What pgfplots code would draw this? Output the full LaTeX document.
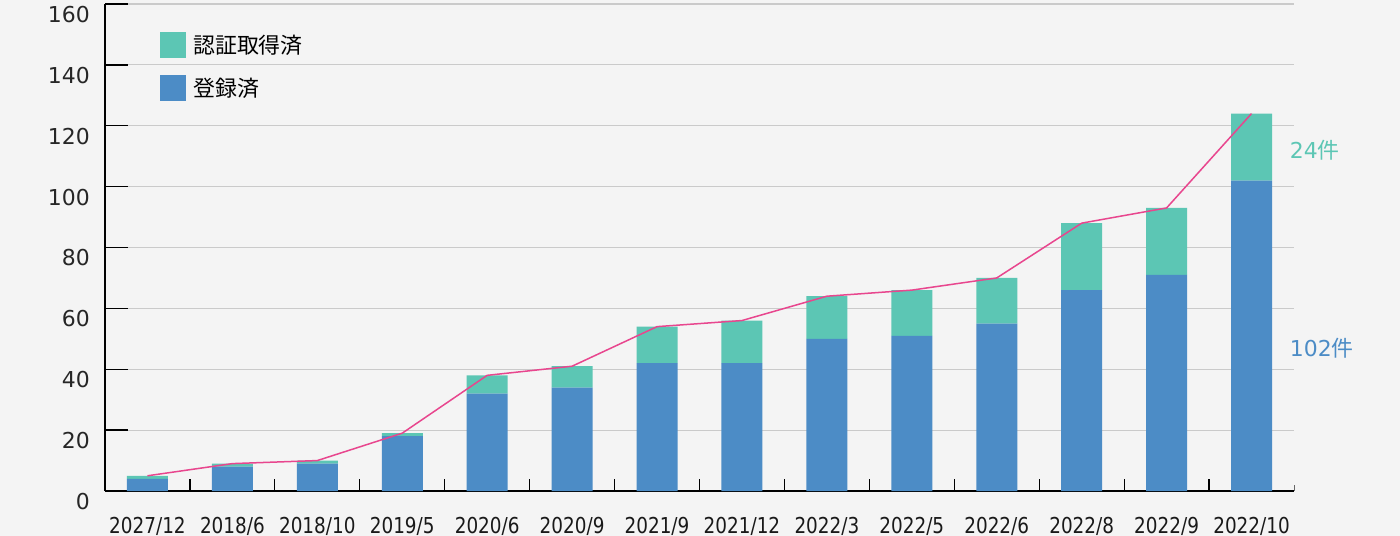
\documentclass[border=0pt]{standalone}
\usepackage{pgfplots}
\pgfplotsset{compat=1.18}
\usepackage{fontspec}
\setmainfont{DejaVu Sans}
\newfontfamily\jp{Noto Sans CJK JP}
\newfontfamily\xfont{DejaVu Sans}[FakeStretch=0.84]
\definecolor{bgc}{HTML}{F4F4F4}
\definecolor{cblue}{HTML}{4C8CC6}
\definecolor{cteal}{HTML}{5CC6B4}
\definecolor{cpink}{HTML}{E8468E}
\definecolor{cgrid}{HTML}{CACACA}
\pgfplotstableread{
x reg cert tot
0 4 1 5
1 8 1 9
2 9 1 10
3 18 1 19
4 32 6 38
5 34 7 41
6 42 12 54
7 42 14 56
8 50 14 64
9 51 15 66
10 55 15 70
11 66 22 88
12 71 22 93
13 102 22 124
}\datatable
\begin{document}
\begin{tikzpicture}
\fill[bgc] (-105bp,-45bp) rectangle (1295bp,491bp);
\begin{axis}[
  at={(0,0)}, anchor=south west,
  scale only axis, width=1189bp, height=487bp,
  xmin=-0.5, xmax=13.5, ymin=0, ymax=160,
  axis lines=left,
  axis line style={-, black, line width=1.3bp},
  ybar stacked, bar width=41bp,
  xtick={0,...,13},
  xticklabels={2027/12,2018/6,2018/10,2019/5,2020/6,2020/9,2021/9,2021/12,2022/3,2022/5,2022/6,2022/8,2022/9,2022/10},
  minor xtick={0.5,1.5,...,12.5},
  major x tick style={draw=none},
  minor x tick style={black, line width=1.2bp},
  minor tick length=12bp,
  major tick length=23bp,
  ytick={0,20,...,160},
  y tick style={black, line width=1.3bp},
  tick align=inside, tick pos=left,
  ymajorgrids,
  grid style={cgrid, line width=1.2bp},
  /pgf/number format/assume math mode=true,
  yticklabel style={anchor=north east, inner sep=0pt, xshift=-15bp, yshift=-2bp, font=\fontsize{22}{24}\selectfont, text=black!85},
  xticklabel style={anchor=north, inner sep=0pt, yshift=-26bp, font=\xfont\fontsize{22}{24}\selectfont, text=black!90},
  clip=false,
  legend style={draw=none, fill=none, at={(axis description cs:0.0463,0.9425)}, anchor=north west, inner sep=0pt, row sep=17bp, column sep=7bp, font=\jp\fontsize{22}{24}\selectfont, nodes={inner sep=0pt}},
  legend cell align=left,
  reverse legend,
  legend image code/.code={\fill[#1] (0bp,-13bp) rectangle (26bp,13bp);},
]
\addplot[fill=cblue, draw=none] table[x=x, y=reg] {\datatable};
\addlegendentry{登録済}
\addplot[fill=cteal, draw=none] table[x=x, y=cert] {\datatable};
\addlegendentry{認証取得済}
\end{axis}
\begin{axis}[
  at={(0,0)}, anchor=south west,
  scale only axis, width=1189bp, height=487bp,
  xmin=-0.5, xmax=13.5, ymin=0, ymax=160,
  axis lines=none, clip=false,
]
\addplot[cpink, line width=1.5bp, mark=none] table[x=x, y=tot] {\datatable};
\draw[black!60, line width=1bp] (axis cs:13.5,0) -- (axis cs:13.5,2);
\node[anchor=west, inner sep=0pt, text=cteal, font=\fontsize{22}{24}\selectfont] at (axis cs:13.45,112) {24{\jp 件}};
\node[anchor=west, inner sep=0pt, text=cblue, font=\fontsize{22}{24}\selectfont] at (axis cs:13.45,47) {102{\jp 件}};
\end{axis}
\pgfresetboundingbox
\path (-105bp,-45bp) rectangle (1295bp,491bp);
\end{tikzpicture}
\end{document}
